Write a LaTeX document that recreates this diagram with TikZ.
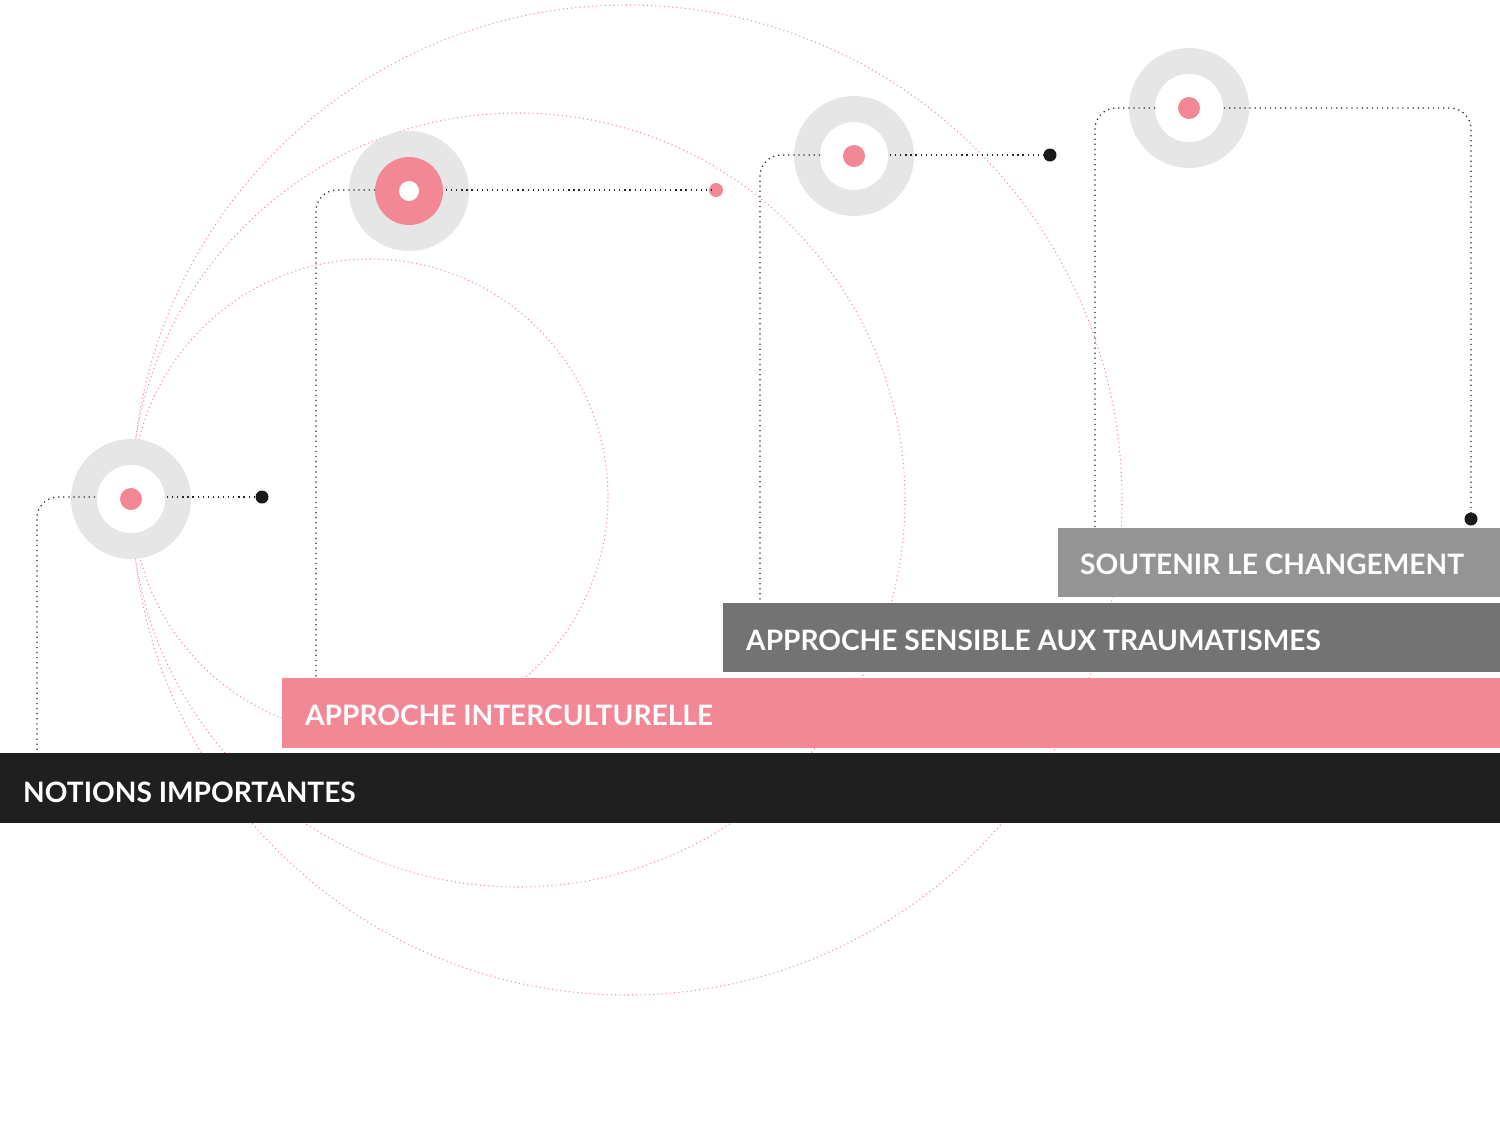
\documentclass[tikz,border=0pt]{standalone}
\usepackage{fontspec}
\setmainfont{Lato}
\begin{document}
\begin{tikzpicture}[x=0.02cm,y=-0.02cm,
  pinkdot/.style={draw=pk,line width=0.6pt,dash pattern=on 0.6pt off 1.8pt},
  conn/.style={draw=black!85,line width=0.7pt,dash pattern=on 0.7pt off 2.2pt,rounded corners=12},
  bar/.style={anchor=north west,inner sep=0pt,minimum height=1.4cm,text=white,font=\fontsize{16}{18}\selectfont\bfseries,align=left,text depth=0pt}]
\definecolor{pk}{HTML}{F28796}
\definecolor{gr}{HTML}{E6E6E6}
\useasboundingbox (0,0) rectangle (1500,1120);
% big dotted circles
\draw[pinkdot] (627,500) circle (495);
\draw[pinkdot] (518,500) circle (387);
\draw[pinkdot] (370,497) circle (238);
% targets
\foreach \n/\x/\y in {A/131/499,C/854/156,D/1189/108}{
  \fill[gr] (\x,\y) circle (60);
  \fill[white] (\x,\y) circle (34);
  \fill[pk] (\x,\y) circle (11);
  \coordinate (\n) at (\x,\y);
}
\fill[gr] (409,191) circle (60);
\fill[pk] (409,191) circle (34);
\fill[white] (409,191) circle (10);
\coordinate (B) at (409,191);
% end dots
\fill[black!90] (262,497) circle (6.5) coordinate (a1);
\fill[pk] (716,190) circle (7) coordinate (b1);
\fill[black!90] (1050,155) circle (6.5) coordinate (c1);
\fill[black!90] (1471,519) circle (6.5) coordinate (d1);
% connectors
\coordinate (a0) at (37,753); \coordinate (b0) at (316,678);
\coordinate (c0) at (760,603); \coordinate (d0) at (1095,528);
\draw[conn] (95,497) -- (37,497) -- (a0);
\draw[conn] (167,497) -- (a1);
\draw[conn] (375,190) -- (316,190) -- (b0);
\draw[conn] (446,190) -- (b1);
\draw[conn] (820,155) -- (760,155) -- (c0);
\draw[conn] (890,155) -- (c1);
\draw[conn] (1155,108) -- (1095,108) -- (d0);
\draw[conn] (1224,108) -- (1471,108) -- (d1);
% bars
\fill[black!90!white,fill=black!88] (0,753) rectangle (1500,823);
\node[bar,text width=30cm,minimum height=1.4cm] (nb) at (0,753) {};
\node[anchor=west,text=white,font=\fontsize{16}{18}\selectfont\bfseries] (t1) at (17,792) {NOTIONS IMPORTANTES};
\fill[pk] (282,678) rectangle (1500,748);
\node[anchor=west,text=white,font=\fontsize{16}{18}\selectfont\bfseries] (t2) at (299,715) {APPROCHE INTERCULTURELLE};
\fill[black!55] (723,603) rectangle (1500,672);
\node[anchor=west,text=white,font=\fontsize{16}{18}\selectfont\bfseries] (t3) at (740,640) {APPROCHE SENSIBLE AUX TRAUMATISMES};
\fill[black!42] (1058,528) rectangle (1500,597);
\node[anchor=west,text=white,font=\fontsize{16}{18}\selectfont\bfseries] (t4) at (1074,564) {SOUTENIR LE CHANGEMENT};
\end{tikzpicture}
\end{document}
